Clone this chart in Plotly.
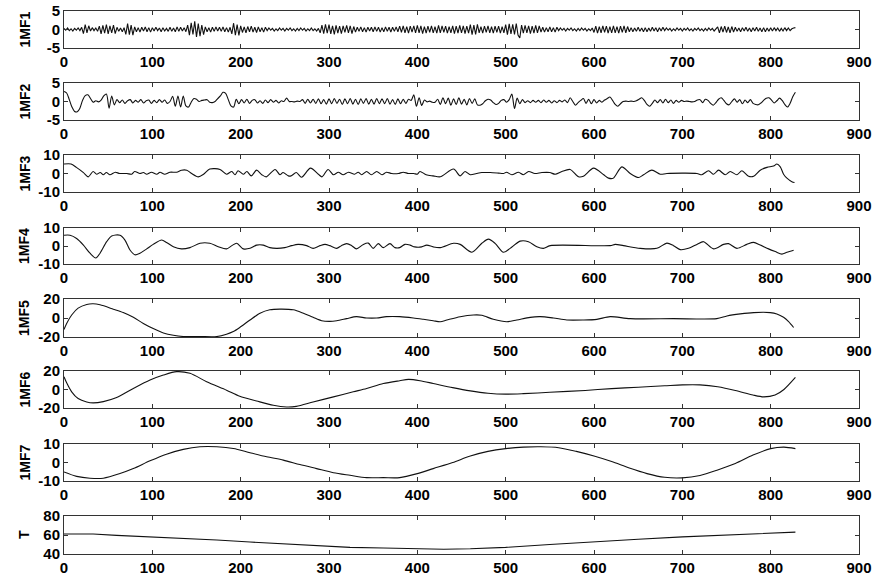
import plotly.graph_objects as go

# ---------------- data ----------------
IMF1_STEP = 2
IMF1 = [
    0.3, -0.2, 0.4, -0.3, 0.2, -0.4, 0.3, -0.2, 0.4, -0.3, 0.6, -1.1, 1.3, -0.9, 1.0, -0.4, 0.5, -0.3, 0.4, -0.5, 0.9, -1.2, 1.1, -1.0, 1.3,
    -1.2, 1.0, -0.9, 1.2, -1.1, 0.6, -0.5, 0.4, -0.6, 0.5, -1.3, 1.6, -1.4, 1.2, -1.5, 0.7, -0.6, 0.5, -0.7, 0.6, -0.4, 0.7, -0.6, 0.5, -0.7,
    0.5, -0.4, 0.6, -0.3, 0.4, -0.6, 0.5, -0.4, 0.3, -0.5, 0.6, -0.5, 0.4, -0.6, 0.7, -0.5, 0.6, -0.4, 0.5, -0.6, 1.2, -1.5, 1.8, -1.3, 2.2,
    -2.0, 1.6, -1.8, 1.2, -1.4, 0.7, -0.6, 0.5, -0.7, 0.6, -0.5, 0.7, -0.4, 0.6, -0.5, 0.7, -0.6, 0.5, -0.7, 0.6, -1.2, 1.7, -1.5, 1.3, -1.6,
    1.0, -0.8, 0.7, -0.9, 0.8, -0.6, 0.9, -0.7, 0.6, -0.8, 0.7, -0.6, 0.5, -0.7, 0.6, -0.3, 0.4, -0.2, 0.3, -0.4, 0.2, -0.3, 0.4, -0.2, 0.3,
    -0.4, 0.3, -0.2, 0.4, -0.3, 0.2, -0.4, 0.3, -0.3, 0.4, -0.2, 0.3, -0.4, 0.2, -0.3, 0.4, -0.3, 0.2, -0.4, 0.3, -0.9, 1.2, -1.1, 1.4, -1.0,
    1.3, -1.2, 1.0, -1.3, 1.1, -1.0, 0.9, -1.1, 1.0, -0.8, 1.1, -0.9, 1.0, -1.1, 0.8, -0.7, 0.6, -0.5, 0.7, -0.6, 0.5, -0.7, 0.6, -0.4, 0.6,
    -0.6, 0.7, -0.5, 0.6, -0.7, 0.5, -0.6, 0.7, -0.5, 0.6, -0.7, 0.6, -0.5, 0.7, -0.6, 0.9, -0.8, 1.0, -0.9, 0.8, -1.0, 0.9, -0.7, 1.0, -0.9,
    1.1, -0.9, 1.0, -1.1, 0.8, -1.0, 0.9, -0.8, 1.0, -0.9, 0.8, -1.0, 1.1, -0.9, 1.0, -0.8, 0.9, -1.0, 0.8, -0.9, 1.0, -1.1, 0.9, -1.0, 1.1,
    -0.9, 1.0, -1.1, 0.9, -1.0, 1.3, -1.4, 1.2, -1.3, 1.4, -0.9, 0.8, -1.0, 0.9, -0.8, 1.0, -0.9, 0.8, -1.0, 0.9, -0.8, 0.9, -1.0, 0.8, -0.9,
    1.3, -1.4, 1.5, -1.2, 1.4, -1.3, 1.6, -1.5, -2.3, 1.2, -1.0, 1.1, -0.9, 1.0, -1.1, 0.9, -1.0, 1.1, -0.9, 1.0, -0.7, 0.6, -0.7, 0.5, -0.6,
    0.7, -0.6, 0.5, -0.7, 0.6, -0.3, 0.4, -0.2, 0.3, -0.4, 0.3, -0.2, 0.4, -0.3, 0.2, -0.4, 0.3, -0.3, 0.4, -0.2, 0.3, -0.4, 0.2, -0.3, 0.4,
    -0.8, 0.9, -1.0, 0.8, -0.9, 1.0, -0.8, 0.9, -1.0, 0.8, -0.9, 1.0, -0.9, 0.8, -1.0, 0.9, -0.8, 1.0, -0.9, 0.8, -0.6, 0.5, -0.6, 0.4, -0.5,
    0.6, -0.5, 0.4, -0.6, 0.5, -0.6, 0.4, -0.5, 0.6, -0.4, 0.5, -0.6, 0.5, -0.4, 0.6, -0.3, 0.4, -0.2, 0.3, -0.4, 0.2, -0.3, 0.4, -0.2, 0.3,
    -0.4, 0.3, -0.2, 0.4, -0.3, 0.2, -0.4, 0.3, -0.2, 0.4, -0.3, 0.2, -0.4, 0.3, -0.3, 0.4, -0.2, 0.3, -0.4, 0.2, 0.7, -0.9, 0.8, -0.7, 0.9,
    -0.8, 0.7, -0.9, 0.8, -0.7, 0.6, -0.5, 0.4, -0.6, 0.5, -0.4, 0.6, -0.5, 0.4, -0.6, 0.5, -0.4, 0.6, -0.5, 0.4, -0.6, 0.5, -0.6, 0.4, -0.5,
    0.5, -0.4, 0.5, -0.3, 0.4, -0.5, 0.3, -0.4, 0.5, -0.3, 0.4, -0.3, 0.2, 0.4, 0.5,
]

IMF2_STEP = 3
IMF2 = [
    2.7, 2.3, 0.5, -1.5, -2.7, -2.8, -1.8, 0.3, 1.6, 1.8, 0.8, -0.2, 0.2, -0.1, 0.4, 1.5, 2.0, -1.8, 1.5, -0.9,
    0.5, -0.3, 0.4, -0.5, 0.2, 0.5, -0.4, 0.3, -0.2, 0.5, -0.4, 0.2, 0.4, -0.5, 0.3, -0.3, 0.5, -0.2, 0.4, -0.5,
    0.0, 1.4, -1.3, 1.5, -1.5, 1.5, -1.2, -1.5, -0.2, 0.8, 0.6, 0.0, 0.3, 0.4, 0.5, -0.2, -0.3, 0.0, 0.8, 1.5,
    2.5, 2.2, 0.5, -1.2, -1.5, 0.6, -0.6, 0.5, -0.4, 0.6, -0.5, 0.3, 0.5, -0.4, 0.2, -0.5, 0.4, -0.3, 0.5, -0.2,
    0.3, -0.4, 0.2, 0.0, 0.9, 0.0, 0.0, -0.1, 0.1, 0.0, 0.5, -0.5, 0.6, -0.4, 0.6, -0.5, 0.7, -0.6, 0.5, -0.7,
    0.7, -0.6, 0.8, -0.5, 0.6, -0.8, 0.7, -0.6, 0.8, -0.7, 0.6, -0.8, 0.7, -0.5, 0.8, -0.7, 0.6, -0.7, 0.8, -0.6,
    0.7, -0.6, 0.8, -0.7, 0.5, -0.8, 0.7, -0.6, 0.6, -0.5, 0.6, 0.3, 1.8, -1.3, 1.0, -1.1, 0.4, -0.1, 0.1, -0.2,
    -0.2, 0.6, -0.8, 1.0, -0.6, 0.9, -1.0, 0.7, -0.8, 1.0, -0.7, 0.6, -0.9, 0.8, -0.5, 0.7, -0.9, -1.0, -0.6, 0.2,
    0.6, 0.4, -0.3, -0.8, -0.5, 0.3, 0.5, -0.2, 0.5, 2.0, -1.9, 0.9, -0.6, 0.5, -0.3, 0.2, -0.3, 0.3, -0.2, 0.3,
    -0.3, 0.4, -0.2, 0.3, -0.4, 0.2, -0.3, 0.3, -0.1, 0.4, -0.3, 1.0, 0.0, -1.0, -0.3, 0.3, 0.8, -0.5, 0.6, -0.6,
    0.5, -0.4, 0.3, -0.2, 0.4, 0.8, 1.2, 0.3, -0.8, -1.3, -0.6, 0.0, 0.1, 0.0, 0.1, 0.0, 0.2, 0.6, 1.0, 0.3,
    -0.8, -1.3, -0.5, 0.4, -0.3, 0.5, -0.4, 0.6, -0.3, 0.4, -0.5, 0.3, -0.2, 0.3, 0.0, 0.1, 0.0, -0.1, 0.0, 0.4,
    0.5, -0.3, 0.6, 0.3, -0.5, -1.0, -0.3, 0.6, 1.0, 0.3, -0.6, -0.9, 0.0, 0.7, -0.2, 0.5, -0.6, 0.4, -0.3, 0.5,
    -0.5, -0.8, -0.9, -0.4, 0.3, 0.9, 1.0, 0.4, -0.4, 0.2, 0.9, 0.3, -0.8, -1.5, -0.5, 1.3, 2.5,
]

IMF3_X = [0, 8, 14, 22, 27.5, 33, 37, 41, 44.5, 48, 52, 58, 63, 71, 76.6, 80, 86, 90, 93.6, 99,
          105, 108.7, 114, 120, 127.5, 133, 139, 144.5, 152, 158, 165, 176.6, 184, 190, 193.6, 197, 203, 207, 212, 218,
          224, 229, 239, 244.5, 248, 254, 257, 263, 269, 279, 288, 292, 299, 305, 310.6, 316, 322, 329, 333, 337,
          342.6, 348, 354, 360, 365, 371, 378.5, 384, 390, 396, 400, 403, 410, 418, 426, 441, 448.5, 454, 460, 467,
          473, 482.5, 492, 497.5, 501, 507, 514.5, 520, 526, 533, 541, 550, 556, 563.6, 573, 582.5, 588, 599.5, 611, 616.4,
          622, 631.5, 641, 650.4, 656, 665.5, 675, 682.5, 716.5, 722, 729.7, 735.4, 741, 748.6, 754.2, 761.8, 767.4, 775, 780.7, 788.2,
          795.8, 803.3, 807, 810.9, 814.6, 818.4, 824, 827]
IMF3_Y = [5.1, 5.1, 3.3, 0.5, -1.8, 1.1, -0.4, 0.5, -0.7, 0.5, -0.7, 0.7, 0.0, 0.0, -0.4, 1.1, 0.0, 0.5, -0.4, 0.7,
          -0.4, 0.7, -0.4, 0.7, 0.7, 1.8, 1.8, 0.0, -1.8, -0.4, 2.4, 2.2, -0.4, 1.1, -0.7, 1.5, -0.4, 1.1, -1.3, 1.8,
          -0.7, -1.8, 2.2, -0.7, 0.5, -1.3, -1.3, 0.5, -2.0, 2.9, -0.4, -1.8, 2.2, -0.7, 0.7, -0.7, 0.7, -0.4, 0.7, -0.7,
          1.1, -0.7, 1.1, -0.7, 0.7, 0.0, 0.0, 0.7, 0.0, 0.0, -0.4, 1.1, -0.7, -1.3, -1.8, 2.4, -1.3, 1.1, -0.7, 0.0,
          0.5, 0.5, 0.2, 0.0, 0.7, -0.7, 0.7, -0.7, 1.1, 0.0, 0.5, 0.5, -0.4, 1.1, 2.2, -1.8, -1.5, 2.9, -0.7, -2.5,
          -2.5, 3.6, 0.0, -2.2, -0.7, 1.8, -0.4, 0.0, 0.0, -0.7, 1.5, -0.4, 1.8, -0.7, 1.1, -0.7, 1.5, -1.5, -1.5, 1.8,
          3.3, 4.0, 5.1, 3.6, -0.4, -2.5, -4.4, -4.9]

IMF4_X = [0, 6.8, 14.3, 22, 29.4, 36, 40.8, 48.3, 54, 63.4, 69, 74.7, 80.4, 86, 93.6, 101, 110.6, 116, 123.8, 133,
          142.6, 154, 165, 174.7, 184, 190, 195.5, 203, 210.6, 218, 225.7, 233, 240.7, 250, 257.7, 265, 274.7, 282, 289.8, 295.5,
          301, 308.7, 314, 320, 325.7, 331, 338.9, 344.5, 350, 355.8, 361.5, 369, 374.7, 380, 386, 391.7, 397, 404.9, 410.6, 418,
          426, 441, 448.5, 461.7, 473, 480.5, 488, 497.5, 505, 516.4, 525.8, 535.3, 542.8, 550.4, 618.3, 624, 633.4, 652.3, 671.2, 682.5,
          690, 697.6, 707, 716.5, 724, 735.4, 746.7, 752.3, 761.8, 773, 780.7, 788.2, 797.6, 805.2, 812.7, 818.4, 826]
IMF4_Y = [6.0, 6.0, 4.2, 0.5, -4.0, -6.7, -4.0, 2.4, 5.6, 6.0, 3.3, -2.2, -4.9, -4.0, -1.6, 0.9, 3.3, 2.0, -0.4, -1.6,
          -0.9, 1.5, 1.5, -0.4, -1.6, 0.2, 1.5, -1.6, -1.3, 0.5, 0.5, -0.9, -1.3, -0.9, 0.2, 0.9, 0.2, -1.3, 0.2, 0.9,
          0.2, -1.3, 0.2, 1.3, 0.2, -1.6, 0.9, 1.6, -1.3, 1.3, -0.9, 1.3, -0.9, -0.9, 0.9, 0.5, -0.5, -0.5, 0.5, -0.5,
          -0.9, 1.5, 0.9, -3.5, 1.5, 3.8, 1.5, -3.5, -1.3, 2.7, 2.4, -0.4, -1.3, 0.2, 0.2, 0.9, 0.2, -1.3, -1.3, 1.6,
          0.2, -2.0, -1.3, 0.9, 2.4, -1.6, 0.9, 1.3, -1.3, 0.9, 2.0, 0.5, -1.6, -3.1, -4.5, -3.5, -2.4]

IMF5_X = [0, 3, 8.7, 16, 25.7, 33, 40.8, 55.8, 67, 78.5, 89.8, 101, 112.5, 123.8, 135, 154, 173, 184, 191.7, 199,
          210.6, 221.9, 233, 244.5, 259.6, 271, 282, 291.7, 301, 308.7, 320, 331, 342.6, 354, 365, 380, 395.5, 406.8, 418, 426,
          433.4, 448.5, 463.5, 473, 486, 501.3, 512.6, 527.7, 539, 554, 569.3, 588, 603.2, 618.3, 641, 690, 739, 750.5, 765.6, 780.7,
          799.5, 807, 814.6, 820.3, 826]
IMF5_Y = [-12.1, -5.7, 3.2, 10.4, 14.3, 15.0, 13.9, 9.3, 5.7, 0.7, -5.7, -11.1, -15.7, -18.2, -19.5, -19.5, -19.5, -17.1, -14.3, -10.0,
          -2.1, 5.0, 8.6, 9.3, 8.6, 5.0, 0.7, -2.9, -3.6, -2.9, -0.7, 1.4, 0.0, 0.0, 1.4, 1.4, 0.0, -1.4, -2.9, -3.9,
          -2.1, 1.4, 3.2, 2.9, -1.4, -3.9, -2.1, 0.7, 1.4, 0.0, -2.1, -2.1, -1.4, 1.4, -0.7, -0.7, -0.7, 2.1, 4.3, 5.7,
          5.7, 4.3, 0.7, -3.9, -10.0]

IMF6_X = [0, 3, 8.7, 16, 25.7, 33, 44.5, 59.6, 78.5, 97.4, 112.5, 127.5, 142.6, 161.5, 184, 199, 218, 237, 252, 263,
          282, 305, 327.5, 342.6, 361.5, 380, 390, 403, 418, 440, 460, 480, 500, 520, 550, 590, 620, 650, 680, 700,
          720, 740, 760, 780, 792, 805, 815, 828]
IMF6_Y = [13.8, 7.3, -2.5, -9.8, -13.5, -14.5, -13.1, -8.7, 1.1, 10.2, 15.6, 19.3, 17.5, 8.4, -0.7, -7.3, -12.4, -17.1, -18.9, -18.2,
          -13.5, -8.0, -2.5, 1.1, 6.5, 9.5, 10.9, 9.5, 6.5, 2.0, -1.5, -4.0, -5.0, -4.5, -3.0, -1.0, 1.0, 2.5, 4.0, 5.0,
          5.0, 3.0, -1.0, -6.0, -8.0, -6.0, 0.0, 13.0]

IMF7_X = [0, 14.3, 29.4, 44.5, 63.4, 78.5, 97.4, 116, 135, 154, 173, 191.7, 210.6, 229.4, 248.3, 267, 286, 305, 323.8, 342.6,
          361.5, 380, 400, 418, 440, 460, 480, 500, 520, 540, 560, 580, 600, 620, 640, 660, 680, 700, 720, 740,
          760, 780, 800, 815, 828]
IMF7_Y = [-5.1, -7.5, -8.5, -8.5, -6.0, -3.3, 0.9, 4.5, 7.1, 8.5, 8.5, 7.6, 5.3, 3.1, 1.3, -1.1, -3.3, -5.5, -6.9, -8.2,
          -8.2, -8.2, -6.0, -3.3, 0.0, 3.5, 6.0, 7.5, 8.3, 8.5, 8.0, 6.0, 3.5, 0.5, -3.0, -6.0, -8.0, -8.3, -7.0, -4.0,
          -0.5, 4.0, 7.5, 8.3, 7.5]

T_X = [0, 33, 59.6, 97.4, 135, 173, 210.6, 248.3, 286, 323.8, 361.5, 400, 418, 430, 460, 500, 550, 600, 650, 700,
       750, 800, 828]
T_Y = [61.0, 61.0, 59.6, 58.2, 56.5, 54.7, 52.6, 50.5, 48.4, 47.0, 46.3, 45.6, 45.0, 45.0, 45.5, 47.0, 50.0, 53.0, 55.5, 58.0,
       60.0, 62.0, 63.0]

PANEL_NAMES = ["1MF1", "1MF2", "1MF3", "1MF4", "1MF5", "1MF6", "1MF7", "T"]
Y_TICKS = [[-5, 0, 5], [-5, 0, 5], [-10, 0, 10], [-10, 0, 10],
           [-20, 0, 20], [-20, 0, 20], [-10, 0, 10], [40, 60, 80]]
X_TICKS = [0, 100, 200, 300, 400, 500, 600, 700, 800, 900]

# ---------------- figure ----------------
W, H = 880, 581
ML, MR, MT, MB = 64, 21, 10, 27
PH = H - MT - MB
# panel boxes (top, bottom) in pixels
BOXES = [(11, 48), (83, 120), (155, 192), (228, 264), (299, 337), (371, 408), (444, 481), (516, 554)]
SHAPES = ["linear", "spline", "spline", "spline", "spline", "spline", "spline", "linear"]

series = [
    ([i * IMF1_STEP for i in range(len(IMF1))], IMF1),
    ([i * IMF2_STEP for i in range(len(IMF2))], IMF2),
    (IMF3_X, IMF3_Y),
    (IMF4_X, IMF4_Y),
    (IMF5_X, IMF5_Y),
    (IMF6_X, IMF6_Y),
    (IMF7_X, IMF7_Y),
    (T_X, T_Y),
]

FONT = "Liberation Sans, Arial, sans-serif"
fig = go.Figure()
layout = dict(
    width=W, height=H, autosize=False,
    margin=dict(l=ML, r=MR, t=MT, b=MB, pad=0, autoexpand=False),
    paper_bgcolor="white", plot_bgcolor="white",
    showlegend=False,
    font=dict(family=FONT, color="black"),
    annotations=[],
)

for i, (xs, ys) in enumerate(series):
    n = i + 1
    xa = "x" if n == 1 else f"x{n}"
    ya = "y" if n == 1 else f"y{n}"
    fig.add_trace(go.Scatter(x=xs, y=ys, mode="lines",
                             line=dict(color="#111111", width=1.1, shape=SHAPES[i], smoothing=0.8),
                             xaxis=xa, yaxis=ya, hoverinfo="skip"))
    top, bot = BOXES[i]
    d0 = (H - MB - bot) / PH
    d1 = (H - MB - top) / PH
    yt = Y_TICKS[i]
    axis_common = dict(
        showline=True, linecolor="#333333", linewidth=1, mirror="ticks",
        ticks="inside", ticklen=4, tickwidth=1, tickcolor="#333333",
        showgrid=False, zeroline=False, automargin=False,
        tickfont=dict(family=FONT, size=15, color="black", weight="bold"),
    )
    layout["xaxis" if n == 1 else f"xaxis{n}"] = dict(
        domain=[0, 1], anchor=ya, range=[0, 900], tickvals=X_TICKS,
        ticktext=[str(v) for v in X_TICKS], **axis_common)
    layout["yaxis" if n == 1 else f"yaxis{n}"] = dict(
        domain=[d0, d1], anchor=xa, range=[yt[0], yt[-1]], tickvals=yt,
        ticktext=[str(v) for v in yt], **axis_common)
    layout["annotations"].append(dict(
        text=f"<b>{PANEL_NAMES[i]}</b>", xref="paper", yref="paper",
        x=(24 - ML) / (W - ML - MR), y=(d0 + d1) / 2,
        xanchor="center", yanchor="middle", textangle=-90, showarrow=False,
        font=dict(family=FONT, size=14, color="black"),
    ))

fig.update_layout(**layout)
fig.write_html("out.html", config={"displayModeBar": False})

# pin the figure to the top-left corner and keep the page exactly 880x581
CSS = ("<style>html,body{margin:0;padding:0;width:880px;height:581px;overflow:hidden;}"
       "body>div{position:absolute;top:0;left:0;width:880px;height:581px;overflow:hidden;}</style>")
with open("out.html", "r", encoding="utf-8") as f:
    html = f.read()
html = html.replace("<head>", "<head>" + CSS, 1)
with open("out.html", "w", encoding="utf-8") as f:
    f.write(html)
